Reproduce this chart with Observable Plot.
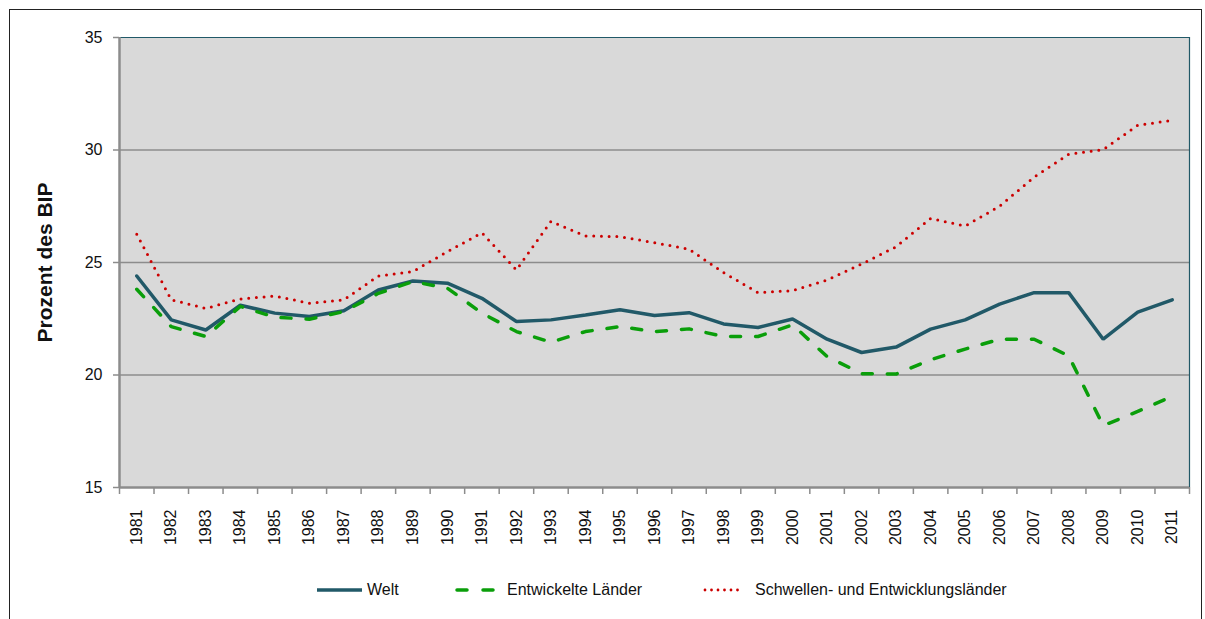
<!DOCTYPE html>
<html>
<head>
<meta charset="utf-8">
<script src="https://cdn.jsdelivr.net/npm/d3@7"></script>
<script src="https://cdn.jsdelivr.net/npm/@observablehq/plot@0.6"></script>
<style>
  html, body { margin: 0; padding: 0; background: #fff; }
  body { width: 1205px; height: 619px; position: relative; overflow: hidden; font-family: "Liberation Sans", Arial, sans-serif; }
  #frame { position: absolute; left: 9px; top: 9px; width: 1193px; height: 640px; border: 1px solid #222; box-sizing: border-box; }
  #chart { position: absolute; left: 0; top: 0; }
  .leg { position: absolute; top: 578px; height: 24px; display: flex; align-items: center; font-size: 16px; color: #111; white-space: nowrap; }
  .leg svg { display: block; }
</style>
</head>
<body>
<div id="frame"></div>
<div id="chart"></div>
<div class="leg" style="left:316px"><svg width="47" height="10"><line x1="1" y1="5" x2="46" y2="5" stroke="#215968" stroke-width="3.5"/></svg><span style="margin-left:4px">Welt</span></div>
<div class="leg" style="left:455px"><svg width="43" height="10"><line x1="2" y1="5" x2="42" y2="5" stroke="#0a9e0a" stroke-width="3.5" stroke-dasharray="10,16" stroke-linecap="round"/></svg><span style="margin-left:9px">Entwickelte Länder</span></div>
<div class="leg" style="left:703px"><svg width="38" height="10"><line x1="2" y1="5" x2="37" y2="5" stroke="#cc0000" stroke-width="2.8" stroke-dasharray="0,6.5" stroke-linecap="round"/></svg><span style="margin-left:14px">Schwellen- und Entwicklungsländer</span></div>
<script>
const years = d3.range(1981, 2012);
const seriesNames = ["Welt", "Entwickelte Länder", "Schwellen- und Entwicklungsländer"];
const welt = [24.4, 22.45, 22.0, 23.1, 22.75, 22.6, 22.86, 23.78, 24.18, 24.08, 23.41, 22.38, 22.45, 22.67, 22.9, 22.64, 22.77, 22.27, 22.11, 22.49, 21.59, 21.0, 21.24, 22.04, 22.45, 23.15, 23.66, 23.66, 21.59, 22.79, 23.34];
const entwickelt = [23.81, 22.15, 21.71, 23.05, 22.57, 22.48, 22.82, 23.63, 24.15, 23.86, 22.75, 21.93, 21.46, 21.93, 22.15, 21.93, 22.05, 21.71, 21.71, 22.23, 20.82, 20.06, 20.04, 20.68, 21.15, 21.59, 21.59, 20.85, 17.75, 18.38, 19.05];
const schwellen = [26.26, 23.34, 22.96, 23.38, 23.51, 23.19, 23.34, 24.4, 24.6, 25.48, 26.32, 24.67, 26.83, 26.18, 26.15, 25.88, 25.59, 24.55, 23.66, 23.75, 24.22, 24.93, 25.7, 26.96, 26.62, 27.5, 28.8, 29.81, 30.02, 31.1, 31.32];
const yTicks = [15, 20, 25, 30, 35];
const yLabel = "Prozent des BIP";

(function () {
  const toRows = (vals) => years.map((y, i) => ({year: y, value: vals[i]}));
  const dWelt = toRows(welt), dEnt = toRows(entwickelt), dSchw = toRows(schwellen);
  const bounds = d3.range(1980.5, 2012, 1);

  const axisGray = "#8c8c8c";
  const teal = "#215968";
  const W = 1205, H = 560, pTop = 37, pBottom = 487, pLeft = 119, pRight = 1189;

  const chart = Plot.plot({
    width: W,
    height: H,
    marginLeft: pLeft,
    marginRight: W - pRight,
    marginTop: pTop,
    marginBottom: H - pBottom,
    style: {fontFamily: "'Liberation Sans', Arial, sans-serif", background: "transparent", color: "#111"},
    x: {type: "linear", domain: [1980.5, 2011.5]},
    y: {domain: [15, 35]},
    marks: [
      Plot.frame({fill: "#d9d9d9", stroke: null}),
      Plot.ruleY([20, 25, 30], {stroke: axisGray, strokeWidth: 1.5}),
      Plot.ruleY([35], {stroke: teal, strokeWidth: 1.2}),
      Plot.ruleX([2011.5], {stroke: teal, strokeWidth: 1.2}),
      Plot.ruleX([1980.5], {stroke: axisGray, strokeWidth: 2.5}),
      Plot.ruleY([15], {stroke: axisGray, strokeWidth: 2.5}),
      Plot.axisY({ticks: yTicks, tickSize: 6, tickPadding: 11, fontSize: 16, label: null, stroke: axisGray, strokeWidth: 1.5, tickFormat: d => String(d)}),
      Plot.axisX({ticks: bounds, tickSize: 7, tickFormat: () => "", label: null, stroke: axisGray, strokeWidth: 1.5}),
      Plot.axisX({ticks: years, tickSize: 0, tickPadding: 22, tickRotate: -90, fontSize: 16, label: null, tickFormat: d => String(d)}),
      Plot.text([yLabel], {frameAnchor: "left", textAnchor: "middle", dx: -74, rotate: -90, fontWeight: "bold", fontSize: 21, fill: "#111"}),
      Plot.line(dWelt, {x: "year", y: "value", stroke: teal, strokeWidth: 3.5, strokeLinejoin: "miter"}),
      Plot.line(dEnt, {x: "year", y: "value", stroke: "#0a9e0a", strokeWidth: 3.5, strokeDasharray: "10,15", strokeLinecap: "round"}),
      Plot.line(dSchw, {x: "year", y: "value", stroke: "#cc0000", strokeWidth: 3, strokeDasharray: "0,7.7", strokeLinecap: "round"})
    ]
  });
  document.getElementById("chart").appendChild(chart);
})();
</script>
</body>
</html>
